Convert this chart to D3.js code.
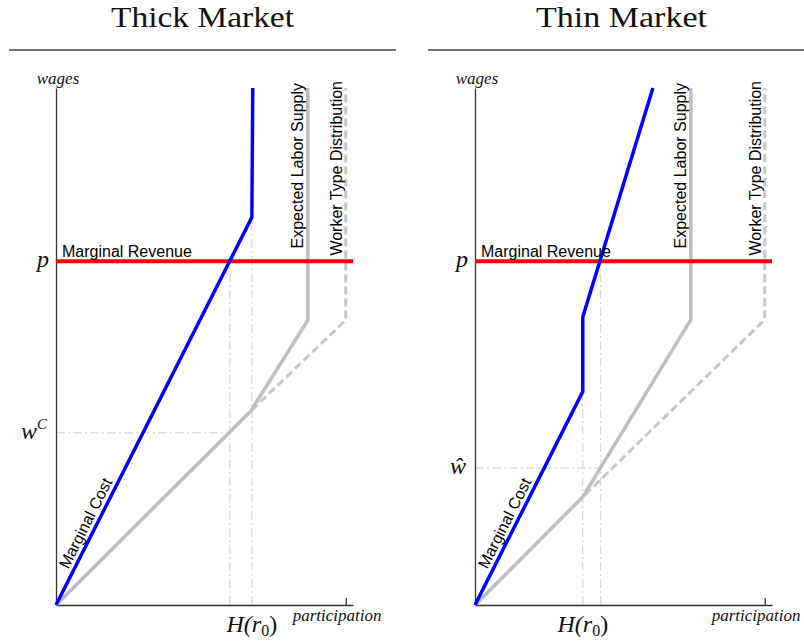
<!DOCTYPE html>
<html>
<head>
<meta charset="utf-8">
<script src="https://cdn.jsdelivr.net/npm/d3@7"></script>
<style>
  body { margin: 0; background: #fff; }
  svg { display: block; }
  .math { font-family: "Liberation Serif", "Times New Roman", serif; font-style: italic; fill: #111; }
  .lbl { font-family: "Liberation Sans", Arial, sans-serif; fill: #000; }
</style>
</head>
<body>
<script>
// Wages (vertical) and participation (horizontal) both run on a 0–1 scale.
const panelTitles = ["Thick Market", "Thin Market"];
const marginalRevenue = [0.665, 0.665];

const marginalCostThick = [[0, 0], [0.676, 0.750], [0.679, 1]];
const laborSupplyThick  = [[0, 0], [0.672, 0.375], [0.869, 0.551], [0.869, 1]];
const workerTypesThick  = [[0, 0], [0.672, 0.375], [1, 0.551], [1, 1]];

const marginalCostThin = [[0, 0], [0.372, 0.413], [0.372, 0.557], [0.614, 1]];
const laborSupplyThin  = [[0, 0], [0.372, 0.209], [0.745, 0.552], [0.745, 1]];
const workerTypesThin  = [[0, 0], [0.372, 0.209], [1, 0.552], [1, 1]];

// Hiring level where marginal cost meets p, the wage paid there, and H(r0).
const hireLevel = [0.600, 0.434];
const wageLevel = [0.333, 0.265];
const hr0Level  = [0.676, 0.372];

const W = 804, H = 641;
const svg = d3.select("body").append("svg").attr("width", W).attr("height", H);

const panelOffset = [0, 419];
const xMax = 1.025;
const x = d3.scaleLinear().domain([0, xMax]).range([56, 353]);
const y = d3.scaleLinear().domain([0, 1]).range([605, 88]);
const line = d3.line().x(d => x(d[0])).y(d => y(d[1]));

const panels = [
  { title: panelTitles[0], titleLen: 183, mc: marginalCostThick, supply: laborSupplyThick, types: workerTypesThick,
    p: marginalRevenue[0], h: hireLevel[0], w: wageLevel[0], hr0: hr0Level[0], wMark: "C" },
  { title: panelTitles[1], titleLen: 171, mc: marginalCostThin, supply: laborSupplyThin, types: workerTypesThin,
    p: marginalRevenue[1], h: hireLevel[1], w: wageLevel[1], hr0: hr0Level[1], wMark: "hat" }
];

panels.forEach((d, i) => {
  const g = svg.append("g").attr("transform", `translate(${panelOffset[i]},0)`);

  // title and the rule under it
  g.append("text")
    .attr("x", 202.5).attr("y", 27)
    .attr("text-anchor", "middle")
    .attr("textLength", d.titleLen).attr("lengthAdjust", "spacingAndGlyphs")
    .style("font-family", '"Liberation Serif", "Times New Roman", serif')
    .style("font-size", "30px")
    .attr("fill", "#111")
    .text(d.title);
  g.append("line")
    .attr("x1", 9).attr("x2", 396).attr("y1", 50).attr("y2", 50)
    .attr("stroke", "#444").attr("stroke-width", 1.3);

  // guide lines
  const guide = g.append("g")
    .attr("fill", "none").attr("stroke", "#cfcfcf").attr("stroke-width", 1)
    .attr("stroke-dasharray", "9,3,2,3");
  guide.append("path").attr("d", line([[d.h, 0], [d.h, d.p]]));
  guide.append("path").attr("d", line([[d.hr0, 0], [d.hr0, d.mc[1][1]]]));
  guide.append("path").attr("d", line([[0, d.w], [d.h, d.w]]));

  // axes
  const xAxis = g.append("g").attr("transform", `translate(0,${y(0)})`)
    .call(d3.axisBottom(x).tickValues([1]).tickSize(-7).tickFormat("").tickSizeOuter(0));
  const yAxis = g.append("g").attr("transform", `translate(${x(0)},0)`)
    .call(d3.axisLeft(y).tickValues([]).tickSizeOuter(0));
  [xAxis, yAxis].forEach(a => {
    a.selectAll("path, line").attr("stroke", "#333").attr("stroke-width", 1.3);
  });

  // worker type distribution (dashed) and expected labor supply
  g.append("path").attr("d", line(d.types))
    .attr("fill", "none").attr("stroke", "#c6c6c6").attr("stroke-width", 3)
    .attr("stroke-dasharray", "8,4");
  g.append("path").attr("d", line(d.supply))
    .attr("fill", "none").attr("stroke", "#bebebe").attr("stroke-width", 3.5)
    .attr("stroke-linejoin", "miter");

  // marginal revenue
  g.append("path").attr("d", line([[0, d.p], [xMax, d.p]]))
    .attr("fill", "none").attr("stroke", "#ff0000").attr("stroke-width", 4);

  // marginal cost
  g.append("path").attr("d", line(d.mc))
    .attr("fill", "none").attr("stroke", "#0000ff").attr("stroke-width", 3.5);

  // curve labels
  g.append("text").attr("class", "lbl")
    .attr("x", x(0) + 6).attr("y", y(d.p) - 4)
    .style("font-size", "16px")
    .text("Marginal Revenue");

  const supTop = d.supply[d.supply.length - 1];
  g.append("text").attr("class", "lbl")
    .attr("transform", `translate(${x(supTop[0]) - 5},${y(1) - 5}) rotate(-90)`)
    .attr("text-anchor", "end")
    .style("font-size", "16px")
    .text("Expected Labor Supply");

  const typTop = d.types[d.types.length - 1];
  g.append("text").attr("class", "lbl")
    .attr("transform", `translate(${x(typTop[0]) - 4},${y(1) - 7}) rotate(-90)`)
    .attr("text-anchor", "end")
    .style("font-size", "16px")
    .text("Worker Type Distribution");

  // "Marginal Cost" runs along the first marginal-cost segment
  const a0 = [x(d.mc[0][0]), y(d.mc[0][1])], a1 = [x(d.mc[1][0]), y(d.mc[1][1])];
  const len = Math.hypot(a1[0] - a0[0], a1[1] - a0[1]);
  const ux = (a1[0] - a0[0]) / len, uy = (a1[1] - a0[1]) / len;
  const ang = Math.atan2(uy, ux) * 180 / Math.PI;
  const s = 37, off = 5;
  const lx = a0[0] + ux * s + uy * off, ly = a0[1] + uy * s - ux * off;
  g.append("text").attr("class", "lbl")
    .attr("transform", `translate(${lx},${ly}) rotate(${ang})`)
    .style("font-size", "16px")
    .text("Marginal Cost");

  // math labels
  g.append("text").attr("class", "math")
    .attr("x", x(0) + 2).attr("y", 84).attr("text-anchor", "middle")
    .style("font-size", "17px").text("wages");
  g.append("text").attr("class", "math")
    .attr("x", x(1) - 53).attr("y", 621)
    .style("font-size", "17px").text("participation");

  g.append("text").attr("class", "math")
    .attr("x", x(0) - 7).attr("y", y(d.p) + 6).attr("text-anchor", "end")
    .style("font-size", "24px").text("p");

  const wl = g.append("text").attr("class", "math")
    .attr("x", x(0) - 9).attr("y", y(d.w) + 6).attr("text-anchor", "end")
    .style("font-size", "24px");
  if (d.wMark === "C") {
    wl.append("tspan").text("w");
    wl.append("tspan").attr("dy", -10).style("font-size", "15px").text("C");
  } else {
    wl.text("\u0175");
  }

  const hl = g.append("text").attr("class", "math")
    .attr("x", x(d.hr0)).attr("y", 632).attr("text-anchor", "middle")
    .style("font-size", "24px");
  hl.append("tspan").text("H(r");
  hl.append("tspan").attr("dy", 4).style("font-size", "16px").style("font-style", "normal").text("0");
  hl.append("tspan").attr("dy", -4).style("font-style", "normal").text(")");
});
</script>
</body>
</html>
